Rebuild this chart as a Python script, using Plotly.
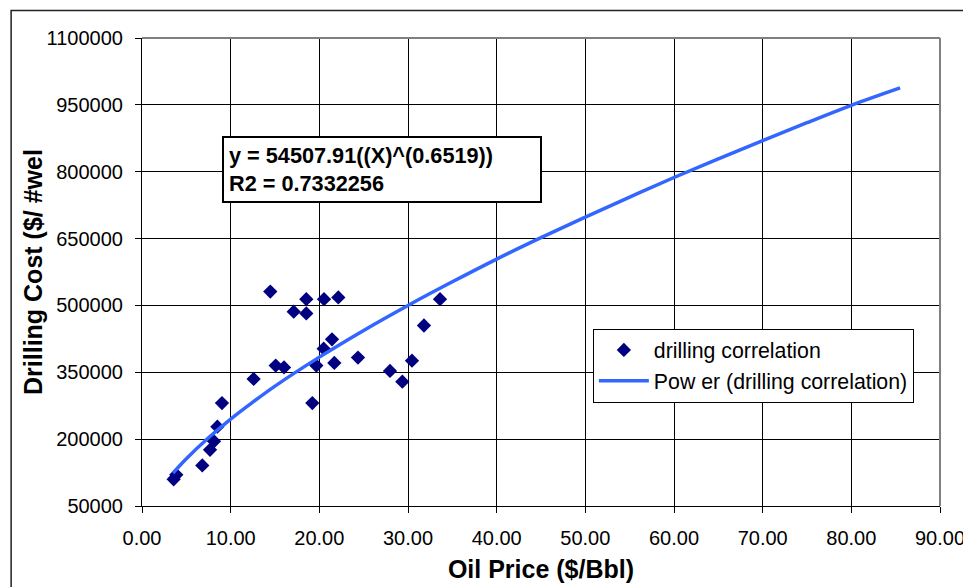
import plotly.graph_objects as go

# Scatter data: oil price ($/Bbl) vs drilling cost ($ per well)
oil_price = [3.57, 3.87, 6.80, 7.67, 8.12, 8.50, 9.02, 12.59, 14.47, 15.08,
             16.02, 17.11, 18.53, 18.53, 19.21, 19.66, 20.49, 20.53, 21.43, 21.69,
             22.14, 24.36, 27.97, 29.36, 30.45, 31.80, 33.61]
drill_cost = [110000, 120000, 141000, 176000, 195000, 228000, 281000, 335000, 531000, 365000,
              361000, 486000, 514000, 482000, 281000, 365000, 403000, 514000, 424000, 371000,
              518000, 383000, 353000, 329000, 376000, 455000, 514000]

# Power trendline
trend_x = [3.5, 5, 7.5, 10, 12.5, 15, 20, 25, 30, 35, 40, 45, 50, 55, 60, 65, 70, 75, 80, 85.5]
trend_y = [124000, 156000, 203000, 245000, 283000, 319000, 384000, 444000, 500000, 553000,
           604000, 652000, 698000, 743000, 787000, 829000, 870000, 910000, 949000, 988000]

equation_text = "y = 54507.91((X)^(0.6519))<br>R2 = 0.7332256"
x_title = "Oil Price ($/Bbl)"
y_title = "Drilling Cost ($/ #wel"

FONT = "Liberation Sans, Arial, sans-serif"

fig = go.Figure()
fig.add_trace(go.Scatter(
    x=oil_price, y=drill_cost, mode="markers", name="drilling correlation",
    marker=dict(symbol="diamond", size=11, color="#000080"),
))
fig.add_trace(go.Scatter(
    x=trend_x, y=trend_y, mode="lines", name="Pow er (drilling correlation)",
    line=dict(color="#3366FF", width=3.5, shape="spline"),
))

fig.update_layout(
    width=963, height=579,
    margin=dict(l=134, r=31, t=30, b=81, autoexpand=False),
    paper_bgcolor="white", plot_bgcolor="white",
    font=dict(family=FONT, size=20, color="black"),
    showlegend=True,
    legend=dict(
        x=0.565, y=0.379, xanchor="left", yanchor="top",
        bgcolor="white", bordercolor="black", borderwidth=1,
        font=dict(family=FONT, size=21.3, color="black"),
        itemwidth=50, tracegroupgap=0,
    ),
    xaxis=dict(
        range=[0, 90], dtick=10, tick0=0, tickformat=".2f",
        showgrid=True, gridcolor="black", gridwidth=1,
        showline=True, linecolor="black", linewidth=1, mirror=False,
        ticks="outside", ticklen=6, tickcolor="black",
        ticklabelstandoff=8, automargin=False,
        zeroline=False,
        title=dict(text="<b>" + x_title + "</b>", font=dict(family=FONT, size=25), standoff=12),
    ),
    yaxis=dict(
        range=[50000, 1100000], dtick=150000, tick0=50000, tickformat="d",
        showgrid=True, gridcolor="black", gridwidth=1,
        showline=True, linecolor="black", linewidth=1,
        ticks="outside", ticklen=6, tickcolor="black",
        ticklabelstandoff=8, automargin=False,
        zeroline=False,
    ),
    annotations=[
        dict(
            xref="paper", yref="paper", x=0.0999, y=0.79, xanchor="left", yanchor="top",
            text="<b>" + equation_text.replace("<br>", "</b><br><b>") + "</b>",
            showarrow=False, align="left", width=306,
            font=dict(family=FONT, size=21.7, color="black"),
            bgcolor="white", bordercolor="black", borderwidth=2, borderpad=5,
        ),
        dict(
            xref="paper", yref="paper", x=-0.1366, y=0.5, xanchor="center", yanchor="middle",
            text="<b>" + y_title + "</b>", textangle=-90, showarrow=False,
            font=dict(family=FONT, size=25, color="black"),
        ),
    ],
    shapes=[
        # gray top/right plot-area border
        dict(type="line", xref="paper", yref="paper", x0=0, x1=1, y0=1, y1=1,
             line=dict(color="#808080", width=2)),
        dict(type="line", xref="paper", yref="paper", x0=1, x1=1, y0=0, y1=1,
             line=dict(color="#808080", width=2)),
        # outer chart border
        dict(type="rect", xref="paper", yref="paper", x0=-0.164, x1=1.2, y0=-0.3, y1=1.0588,
             line=dict(color="#222222", width=1.5), layer="below"),
    ],
)

fig.write_html("out.html")
